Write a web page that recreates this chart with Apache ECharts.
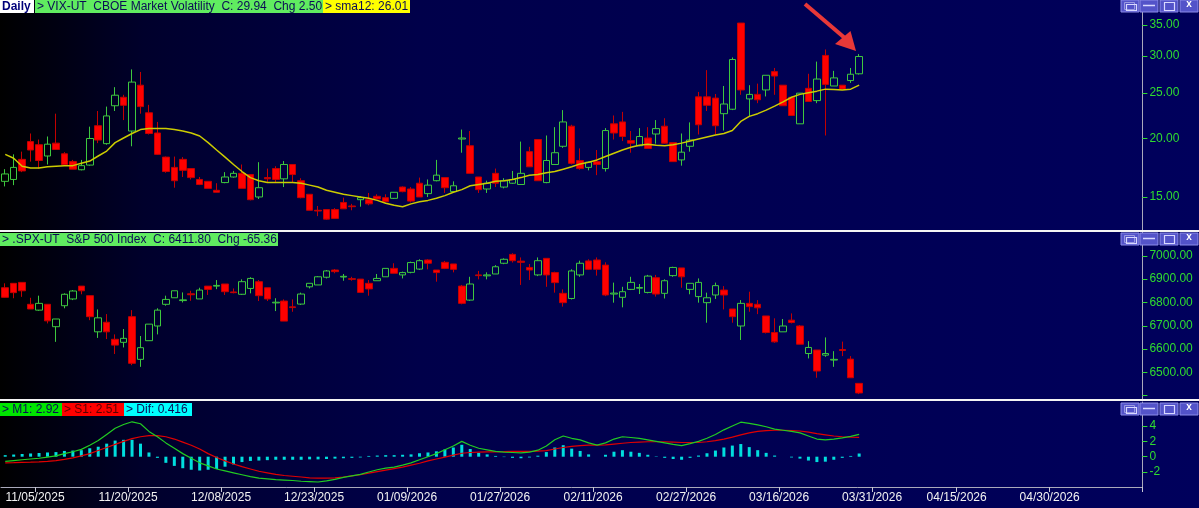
<!DOCTYPE html>
<html><head><meta charset="utf-8">
<script src="https://cdn.jsdelivr.net/npm/echarts@6/dist/echarts.min.js"></script>
<style>html,body{margin:0;padding:0;background:#000;overflow:hidden}#c{width:1199px;height:508px}</style>
</head><body><div id="c"></div>
<script>
// ---------- DATA ----------
const startDate = '2025-10-30';
const barCount = 135;
const holidays = ['2025-11-27','2025-12-25','2026-01-01','2026-01-19','2026-02-16','2026-04-03','2026-05-25'];
const tickLabels = ['11/05/2025','11/20/2025','12/08/2025','12/23/2025','01/09/2026','01/27/2026','02/11/2026','02/27/2026','03/16/2026','03/31/2026','04/15/2026','04/30/2026'];

// VIX candles [open, close, low, high]
const vixCandles = [
[16.2,16.8,15.8,17.2],[16.35,17.35,15.9,18.5],[18.05,17.05,16.95,18.75],[19.7,18.9,17.85,20.5],[19.4,17.95,17.25,19.9],
[18.35,19.45,17.6,20.2],[19.55,18.95,18.9,22.6],[18.55,17.6,17.5,18.7],[17.85,17.2,17.2,18.0],[17.15,17.5,17.1,18.0],
[17.55,20.0,17.5,21.2],[21.3,19.85,19.55,22.9],[19.5,22.35,19.4,23.4],[23.5,24.75,22.9,25.75],[24.5,23.55,21.9,24.8],
[20.75,26.4,19.25,28.1],[26.0,23.4,22.6,27.75],[22.7,20.5,20.4,23.6],[20.55,18.5,18.45,21.7],[18.25,17.0,16.9,18.3],
[17.35,16.25,15.7,18.3],[18.05,17.1,16.55,18.25],[17.25,16.5,16.35,17.25],[16.35,15.95,15.9,16.55],[16.2,15.65,15.65,16.2],
[15.5,15.35,15.35,16.05],[16.1,16.55,16.05,16.95],[16.55,16.85,16.5,17.05],[16.85,15.65,15.65,17.6],[16.75,14.8,14.75,16.75],
[15.0,15.7,14.85,17.8],[16.5,16.4,16.15,17.25],[17.25,16.35,16.15,17.45],[16.4,17.6,15.75,17.9],[17.6,16.75,16.1,17.6],
[16.25,14.95,14.9,16.45],[15.2,14.05,14.05,15.2],[14.05,14.0,13.65,14.35],[14.1,13.45,13.4,14.1],[14.1,13.5,13.5,14.2],
[14.6,14.15,14.15,14.95],[14.35,14.3,14.05,14.5],[14.8,14.95,14.3,15.05],[14.8,14.5,14.4,15.3],[15.05,14.85,14.85,15.2],
[14.95,14.65,14.65,15.2],[14.9,15.35,14.85,15.35],[15.75,15.4,15.35,15.8],[15.6,14.7,14.6,15.75],[16.05,15.0,15.0,16.5],
[15.25,15.9,15.0,16.35],[16.25,16.7,16.2,18.0],[16.5,15.7,15.3,16.5],[15.4,15.85,15.3,16.2],[19.95,20.05,18.65,20.9],
[19.3,16.85,16.85,20.75],[16.55,15.55,15.3,16.55],[15.6,16.05,15.3,16.25],[16.85,16.05,15.75,17.25],[15.75,16.25,15.65,16.45],
[16.05,16.35,16.0,17.05],[15.95,16.85,15.95,19.7],[18.75,17.4,17.4,19.2],[19.9,16.25,16.25,19.9],[16.1,17.95,16.05,20.3],
[17.6,18.65,17.6,21.15],[19.25,21.7,19.1,23.0],[21.25,17.7,17.6,21.4],[17.95,17.25,17.15,19.05],[17.35,17.8,17.1,17.85],
[17.85,17.6,16.7,18.9],[17.25,20.8,17.0,21.05],[21.5,20.55,19.9,22.4],[21.7,20.2,19.75,22.8],[19.8,19.55,18.65,20.75],
[19.3,20.2,19.25,21.05],[20.05,19.05,19.05,21.15],[20.45,21.0,19.5,21.9],[21.25,19.55,19.5,22.1],[19.6,17.85,17.85,19.6],
[18.0,18.7,17.5,20.5],[19.25,19.85,18.75,21.65],[24.55,21.4,20.4,25.15],[24.55,23.55,22.9,28.0],[24.4,21.3,20.4,24.9],
[22.6,23.7,20.8,25.9],[23.1,29.5,23.0,29.8],[35.3,25.4,24.8,35.3],[24.3,24.85,22.3,26.0],[24.85,24.2,23.8,26.2],
[25.4,27.3,24.6,27.3],[27.8,27.2,24.8,28.3],[26.0,23.5,23.5,26.0],[24.5,22.4,22.4,24.5],[21.5,25.0,21.5,25.0],
[25.6,24.0,24.0,27.5],[24.1,26.8,23.8,29.2],[30.1,26.1,20.3,31.0],[25.9,26.95,25.9,27.9],[26.0,25.5,25.5,26.0],
[26.6,27.44,26.3,28.3],[27.5,29.94,27.4,30.3]
];

const vixSma12 = [
18.5,18.15,17.45,17.3,17.3,17.4,17.45,17.5,17.5,17.7,
17.9,18.35,18.8,19.6,20.05,20.5,20.9,21.0,21.0,21.0,
20.9,20.75,20.55,20.25,19.6,18.9,18.25,17.6,17.0,16.5,
16.25,16.1,16.1,16.1,16.1,16.05,15.9,15.75,15.5,15.35,
15.2,15.1,15.0,14.9,14.75,14.55,14.4,14.3,14.5,14.65,
14.75,14.9,15.1,15.35,15.55,15.85,15.95,16.05,16.2,16.25,
16.35,16.5,16.7,16.75,16.9,17.0,17.2,17.4,17.65,17.8,
18.0,18.3,18.6,18.9,19.15,19.35,19.45,19.35,19.3,19.4,
19.55,19.75,19.95,20.15,20.35,20.5,20.8,21.75,22.3,22.6,
23.0,23.45,23.95,24.5,24.85,25.05,25.25,25.5,25.45,25.4,
25.5,26.01
];

// S&P 500 candles [open, close, low, high]
const spxCandles = [
[6863,6822,6821,6882],[6882,6842,6818,6882],[6886,6850,6824,6886],[6792,6772,6772,6820],[6767,6796,6764,6829],
[6792,6721,6710,6792],[6696,6729,6631,6729],[6786,6835,6775,6839],[6815,6849,6810,6853],[6870,6850,6835,6870],
[6829,6739,6724,6829],[6674,6734,6648,6770],[6715,6674,6643,6750],[6642,6617,6579,6663],[6629,6646,6607,6686],
[6739,6539,6531,6767],[6556,6606,6524,6656],[6636,6707,6636,6707],[6699,6767,6663,6775],[6792,6813,6786,6829],
[6820,6850,6820,6850],[6808,6811,6800,6843],[6837,6833,6807,6850],[6815,6853,6815,6863],[6870,6856,6832,6870],
[6870,6873,6857,6896],[6879,6846,6832,6879],[6845,6842,6839,6860],[6835,6889,6832,6899],[6860,6903,6839,6908],
[6889,6829,6806,6896],[6863,6815,6806,6863],[6798,6801,6763,6818],[6806,6720,6720,6813],[6781,6778,6760,6813],
[6793,6836,6789,6842],[6867,6882,6860,6882],[6875,6910,6875,6913],[6908,6935,6903,6939],[6939,6932,6925,6943],
[6909,6912,6893,6922],[6902,6899,6893,6910],[6900,6843,6843,6900],[6882,6858,6829,6896],[6893,6903,6893,6922],
[6910,6946,6910,6946],[6946,6925,6925,6968],[6918,6928,6903,6932],[6929,6971,6925,6975],[6943,6979,6939,6985],
[6982,6968,6942,6985],[6939,6928,6889,6939],[6972,6946,6943,6978],[6965,6942,6929,6965],[6870,6796,6792,6875],
[6810,6879,6807,6910],[6918,6915,6899,6935],[6914,6918,6899,6929],[6922,6953,6922,6960],[6968,6985,6964,6989],
[7006,6979,6971,7011],[6977,6972,6875,6993],[6950,6939,6896,6965],[6918,6979,6913,6993],[6989,6918,6867,6989],
[6928,6885,6842,6932],[6839,6799,6782,6856],[6817,6935,6813,6942],[6918,6968,6910,6979],[6978,6942,6939,6985],
[6982,6942,6915,6993],[6960,6832,6827,6972],[6836,6840,6799,6885],[6822,6846,6779,6867],[6856,6886,6853,6910],
[6861,6864,6836,6879],[6843,6913,6839,6918],[6906,6836,6825,6918],[6839,6893,6817,6899],[6915,6950,6910,6953],
[6948,6910,6863,6948],[6856,6882,6835,6882],[6825,6886,6799,6903],[6799,6820,6713,6842],[6832,6872,6815,6885],
[6853,6832,6770,6870],[6772,6739,6713,6772],[6699,6796,6639,6810],[6796,6782,6760,6846],[6792,6777,6750,6810],
[6742,6671,6667,6742],[6671,6631,6627,6732],[6674,6699,6674,6729],[6724,6714,6710,6753],[6699,6621,6621,6703],
[6581,6607,6560,6634],[6596,6506,6477,6596],[6574,6581,6567,6650],[6553,6556,6524,6591],[6598,6594,6570,6632],
[6557,6477.16,6477,6570],[6453,6411.8,6407,6453]
];

const m1 = [
-0.6,-0.5,-0.4,-0.3,-0.2,-0.05,0.1,0.4,0.65,0.95,
1.5,2.1,2.9,3.7,4.2,4.55,4.3,3.3,2.6,1.8,
1.1,0.4,-0.2,-0.8,-1.2,-1.6,-1.85,-2.1,-2.35,-2.6,
-2.8,-2.9,-3.0,-3.05,-3.1,-3.2,-3.25,-3.3,-3.15,-2.95,
-2.7,-2.5,-2.3,-2.0,-1.7,-1.5,-1.35,-1.1,-0.8,-0.4,
0.0,0.4,0.9,1.4,2.0,1.5,1.1,0.9,0.7,0.6,
0.55,0.5,0.6,0.85,1.4,2.2,2.7,2.4,2.2,1.8,
1.5,1.8,2.3,2.6,2.5,2.4,2.2,2.0,1.8,1.6,
1.45,1.7,2.0,2.4,2.9,3.5,4.0,4.5,4.35,4.15,
3.9,3.6,3.45,3.3,3.1,2.7,2.3,2.2,2.3,2.45,
2.65,2.92
];
const s1 = [
-0.8,-0.78,-0.75,-0.72,-0.68,-0.6,-0.5,-0.35,-0.15,0.1,
0.4,0.8,1.2,1.6,2.0,2.35,2.6,2.75,2.75,2.6,
2.3,1.9,1.5,1.0,0.4,-0.1,-0.55,-0.95,-1.3,-1.6,
-1.9,-2.1,-2.3,-2.45,-2.55,-2.65,-2.75,-2.8,-2.8,-2.75,
-2.65,-2.5,-2.35,-2.15,-1.95,-1.75,-1.55,-1.35,-1.1,-0.85,
-0.55,-0.3,-0.05,0.2,0.45,0.55,0.6,0.62,0.64,0.65,
0.7,0.7,0.7,0.72,0.8,1.0,1.2,1.35,1.45,1.5,
1.5,1.55,1.65,1.75,1.85,1.9,1.95,1.95,1.95,1.9,
1.85,1.85,1.85,1.95,2.1,2.3,2.55,2.85,3.1,3.3,
3.4,3.45,3.45,3.4,3.35,3.2,3.0,2.85,2.7,2.6,
2.55,2.51
];
const dif = [
0.2,0.28,0.35,0.42,0.48,0.55,0.6,0.75,0.8,0.85,
1.1,1.3,1.7,2.1,2.2,2.2,1.7,0.55,-0.15,-0.8,
-1.2,-1.5,-1.7,-1.8,-1.7,-1.6,-1.3,-1.0,-0.7,-0.55,
-0.5,-0.45,-0.4,-0.4,-0.4,-0.4,-0.35,-0.35,-0.3,-0.25,
-0.2,-0.15,-0.1,0.1,0.15,0.2,0.2,0.25,0.3,0.45,
0.55,0.7,0.95,1.2,1.55,1.0,0.5,0.3,0.1,-0.05,
-0.15,-0.2,-0.1,0.13,0.6,1.2,1.5,1.05,0.75,0.3,
0.0,0.25,0.65,0.85,0.65,0.5,0.25,0.05,-0.15,-0.3,
-0.4,-0.15,0.15,0.45,0.8,1.2,1.45,1.65,1.25,0.85,
0.5,0.15,0.0,-0.1,-0.25,-0.5,-0.7,-0.65,-0.4,-0.15,
0.1,0.416
];

const vixTicks = [15, 20, 25, 30, 35];
const vixRange = [12.75, 39.54];
const spxLabelTicks = [6500, 6600, 6700, 6800, 6900, 7000];
const spxTicks = [6400, 6500, 6600, 6700, 6800, 6900, 7000];
const spxRange = [6386, 7102];
const macdTicks = [-2, 0, 2, 4];
const macdRange = [-3.95, 7.13];

// ---------- BUILD ----------
function tradingDays(start, n, hol) {
  const out = [];
  const d = new Date(start + 'T00:00:00Z');
  while (out.length < n) {
    const dow = d.getUTCDay();
    const iso = d.toISOString().slice(0, 10);
    if (dow !== 0 && dow !== 6 && hol.indexOf(iso) < 0) {
      out.push(iso.slice(5, 7) + '/' + iso.slice(8, 10) + '/' + iso.slice(0, 4));
    }
    d.setUTCDate(d.getUTCDate() + 1);
  }
  return out;
}
const dates = tradingDays(startDate, barCount, holidays);
const isLabeled = (i, v) => tickLabels.indexOf(v) >= 0;
const lg = v => Math.log10(v);

const AXIS_GRAY = '#a9a9bb';
const LABEL_GREEN = '#2fdc2f';
const FONT = '"Liberation Sans", Arial, sans-serif';

const grids = [
  { left: 1, top: 0, width: 1141.4, height: 230 },
  { left: 1, top: 232, width: 1141.4, height: 167 },
  { left: 1, top: 402, width: 1141.4, height: 85 }
].map(g => Object.assign({ outerBoundsMode: 'none', containLabel: false }, g));

function xAx(idx, show) {
  return {
    type: 'category', gridIndex: idx, data: dates, boundaryGap: true, show: show,
    axisLine: { show: show, onZero: false, lineStyle: { color: AXIS_GRAY, width: 1 } },
    axisTick: { show: show, interval: isLabeled, length: 5, lineStyle: { color: '#c8c8d4' } },
    axisLabel: { show: show, interval: isLabeled, color: '#f2f2f2', fontSize: 12, margin: 5,
      fontFamily: FONT, padding: [0, 8, 0, 0] },
    splitLine: { show: false }
  };
}
function yAx(idx, min, max, tickVals, labelVals, fmt) {
  return {
    type: 'value', gridIndex: idx, position: 'right', min: min, max: max, scale: true,
    splitLine: { show: false },
    axisLine: { show: true, onZero: false, lineStyle: { color: AXIS_GRAY, width: 1 } },
    axisTick: { show: true, length: 5, customValues: tickVals, lineStyle: { color: LABEL_GREEN } },
    axisLabel: { show: true, customValues: labelVals, formatter: fmt, color: LABEL_GREEN,
      fontSize: 12, margin: 7, fontFamily: FONT }
  };
}

const candleStyle = {
  color: 'rgba(0,0,0,0)', color0: '#ff0000',
  borderColor: '#3ec83e', borderColor0: '#c40000', borderWidth: 1
};

function headerBox(x, y, w, h, fill, text, tc, bold) {
  return [
    { type: 'rect', z: 100, shape: { x: x, y: y, width: w, height: h }, style: { fill: fill } },
    { type: 'text', z: 101, x: x + 2, y: y + h / 2 + 0.5,
      style: { text: text, fill: tc, font: (bold ? 'bold ' : '') + '12px ' + FONT, verticalAlign: 'middle', align: 'left' } }
  ];
}
function buttons(y0) {
  const out = [];
  const xs = [1121, 1140, 1160, 1180];
  xs.forEach(x => out.push({ type: 'rect', z: 100, shape: { x: x, y: y0, width: 18, height: 12 },
    style: { fill: '#5353c9', stroke: '#8c8ce8', lineWidth: 1 } }));
  const ic = '#d8d8ff';
  out.push({ type: 'rect', z: 101, shape: { x: 1124.5, y: y0 + 2.5, width: 10, height: 7 }, style: { fill: 'none', stroke: '#9a9ae0', lineWidth: 1 } });
  out.push({ type: 'rect', z: 101, shape: { x: 1126.5, y: y0 + 4.5, width: 10, height: 6 }, style: { fill: 'none', stroke: ic, lineWidth: 1.2 } });
  out.push({ type: 'line', z: 101, shape: { x1: 1143, y1: y0 + 5.5, x2: 1155, y2: y0 + 5.5 }, style: { stroke: ic, lineWidth: 1.5 } });
  out.push({ type: 'rect', z: 101, shape: { x: 1164.5, y: y0 + 2.5, width: 10, height: 8 }, style: { fill: 'none', stroke: ic, lineWidth: 1.2 } });
  out.push({ type: 'text', z: 101, x: 1189, y: y0 + 4.5, style: { text: 'x', fill: '#ffffff', font: 'bold 10px ' + FONT, align: 'center', verticalAlign: 'middle' } });
  return out;
}

const graphics = [].concat(
  [{ type: 'rect', z: 90, shape: { x: 0, y: 230, width: 1199, height: 2 }, style: { fill: '#f4f4f4' } },
   { type: 'rect', z: 90, shape: { x: 0, y: 399, width: 1199, height: 2 }, style: { fill: '#f4f4f4' } }],
  headerBox(0, 0, 34, 13, '#ffffff', 'Daily', '#00007a', true),
  headerBox(35, 0, 288, 13, '#60ec60', '> VIX-UT  CBOE Market Volatility  C: 29.94  Chg 2.50', '#0b0b55', false),
  headerBox(323, 0, 87, 13, '#ffff00', '> sma12: 26.01', '#0b0b55', false),
  headerBox(0, 233, 278, 13, '#60ec60', '> .SPX-UT  S&P 500 Index  C: 6411.80  Chg -65.36', '#0b0b55', false),
  headerBox(0, 403, 62, 13, '#00e600', '> M1: 2.92', '#0b0b55', false),
  headerBox(62, 403, 62, 13, '#ff0000', '> S1: 2.51', '#5a0000', false),
  headerBox(124, 403, 68, 13, '#00ffff', '> Dif: 0.416', '#0b0b55', false),
  buttons(0), buttons(233), buttons(403),
  [{ type: 'line', z: 95, shape: { x1: 805, y1: 4, x2: 846, y2: 39 }, style: { stroke: '#e83838', lineWidth: 4 } },
   { type: 'polygon', z: 95, shape: { points: [[856, 51], [835, 44], [850.5, 31]] }, style: { fill: '#e83838' } }]
);

const option = {
  animation: false,
  backgroundColor: { type: 'linear', x: 0, y: 0, x2: 1, y2: 0,
    colorStops: [{ offset: 0, color: '#000000' }, { offset: 0.12, color: '#00002c' }, { offset: 0.35, color: '#00004a' }, { offset: 1, color: '#00005c' }] },
  grid: grids,
  xAxis: [xAx(0, false), xAx(1, false), xAx(2, true)],
  yAxis: [
    yAx(0, lg(vixRange[0]), lg(vixRange[1]), vixTicks.map(lg), vixTicks.map(lg), v => Math.pow(10, v).toFixed(2)),
    yAx(1, spxRange[0], spxRange[1], spxTicks, spxLabelTicks, v => v.toFixed(2)),
    yAx(2, macdRange[0], macdRange[1], macdTicks, macdTicks, v => String(Math.round(v)))
  ],
  series: [
    { type: 'candlestick', xAxisIndex: 0, yAxisIndex: 0, barWidth: 7, z: 2,
      data: vixCandles.map(c => c.map(lg)), itemStyle: candleStyle },
    { type: 'line', xAxisIndex: 0, yAxisIndex: 0, z: 3, symbol: 'none', smooth: false,
      data: vixSma12.map(lg), lineStyle: { color: '#cccc00', width: 1.5 } },
    { type: 'candlestick', xAxisIndex: 1, yAxisIndex: 1, barWidth: 7, z: 2,
      data: spxCandles, itemStyle: candleStyle },
    { type: 'bar', xAxisIndex: 2, yAxisIndex: 2, barWidth: 3, z: 2,
      data: dif, itemStyle: { color: '#00dede' } },
    { type: 'line', xAxisIndex: 2, yAxisIndex: 2, z: 3, symbol: 'none',
      data: s1, lineStyle: { color: '#e00000', width: 1.2 } },
    { type: 'line', xAxisIndex: 2, yAxisIndex: 2, z: 4, symbol: 'none',
      data: m1, lineStyle: { color: '#22cc22', width: 1.2 } }
  ],
  graphic: { elements: graphics }
};

const chart = echarts.init(document.getElementById('c'), null, { renderer: 'canvas' });
chart.setOption(option);
</script>
</body></html>
